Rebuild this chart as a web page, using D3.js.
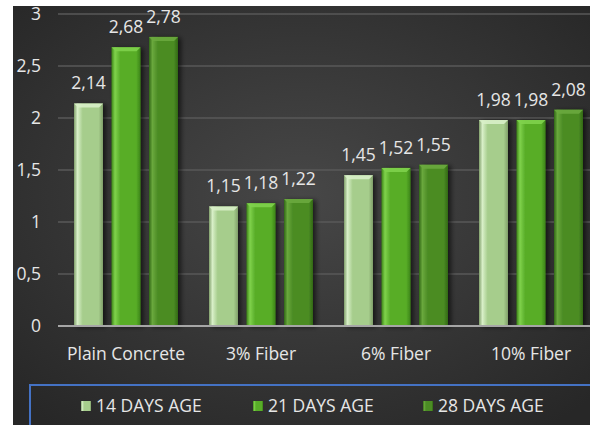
<!DOCTYPE html>
<html>
<head>
<meta charset="utf-8">
<script src="https://cdn.jsdelivr.net/npm/d3@7"></script>
<style>
  html, body { margin: 0; padding: 0; background: #fff; }
  svg { display: block; }
</style>
</head>
<body>
<div id="chart"></div>
<script>
var categories = ['Plain Concrete', '3% Fiber', '6% Fiber', '10% Fiber'];
var series = ['14 DAYS AGE', '21 DAYS AGE', '28 DAYS AGE'];
var days14 = [2.14, 1.15, 1.45, 1.98];
var days21 = [2.68, 1.18, 1.52, 1.98];
var days28 = [2.78, 1.22, 1.55, 2.08];
var yTicks = [0, 0.5, 1, 1.5, 2, 2.5, 3];

var values = [days14, days21, days28];
var palette = [
    {top: '#d8efc8', mid: '#a6cd8c', edge: '#809f6a'},
    {top: '#80d24c', mid: '#58ad28', edge: '#3c8418'},
    {top: '#6aa83e', mid: '#4b8c24', edge: '#316814'}
];

var width = 590, height = 425;
var font = '"Open Sans", Lato, sans-serif';
var fontSize = 17.5;
var locale = d3.formatLocale({decimal: ',', thousands: '.', grouping: [3], currency: ['', '']});
var fmt = function(v) { return locale.format(',')(v); };
var fmt2 = locale.format('.2f');

var svg = d3.select('#chart').append('svg')
    .attr('width', width)
    .attr('height', height);

var defs = svg.append('defs');

var bg = defs.append('radialGradient').attr('id', 'bg')
    .attr('cx', '50%').attr('cy', '45%').attr('r', '70%');
bg.append('stop').attr('offset', '0%').attr('stop-color', '#474747');
bg.append('stop').attr('offset', '100%').attr('stop-color', '#272727');

palette.forEach(function(p, i) {
    var g = defs.append('linearGradient').attr('id', 'bar' + i)
        .attr('x1', 0).attr('x2', 1).attr('y1', 0).attr('y2', 0);
    g.append('stop').attr('offset', '0%').attr('stop-color', p.edge);
    g.append('stop').attr('offset', '12%').attr('stop-color', p.top);
    g.append('stop').attr('offset', '30%').attr('stop-color', p.mid);
    g.append('stop').attr('offset', '85%').attr('stop-color', p.mid);
    g.append('stop').attr('offset', '100%').attr('stop-color', p.edge);
});

var shadow = defs.append('filter').attr('id', 'shadow')
    .attr('x', '-30%').attr('y', '-10%').attr('width', '170%').attr('height', '130%');
shadow.append('feDropShadow').attr('dx', 3).attr('dy', 1)
    .attr('stdDeviation', 2.5).attr('flood-color', '#000').attr('flood-opacity', 0.6);

svg.append('rect')
    .attr('x', 13).attr('y', 6)
    .attr('width', width - 13).attr('height', height - 6)
    .attr('fill', 'url(#bg)');

var x0 = d3.scaleBand().domain(categories).range([58.5, 598.5]);
var x1 = d3.scaleBand().domain(d3.range(series.length)).range([15.5, 119.5]).paddingInner(0.227);
var y = d3.scaleLinear().domain([0, 3]).range([326, 14]);

// gridlines
svg.append('g').selectAll('line')
    .data(yTicks.filter(function(t) { return t > 0; }))
    .join('line')
    .attr('x1', 58).attr('x2', width)
    .attr('y1', function(d) { return y(d); })
    .attr('y2', function(d) { return y(d); })
    .attr('stroke', '#595959')
    .attr('stroke-width', 1.5);

// y axis labels
svg.append('g').selectAll('text')
    .data(yTicks)
    .join('text')
    .attr('x', 41)
    .attr('y', function(d) { return y(d); })
    .attr('dy', '0.35em')
    .attr('text-anchor', 'end')
    .attr('fill', '#e6e6e6')
    .attr('font-family', font)
    .attr('font-size', fontSize)
    .text(fmt);

// bars
var groups = svg.append('g').selectAll('g')
    .data(categories)
    .join('g')
    .attr('transform', function(d) { return 'translate(' + x0(d) + ',0)'; });

var bars = groups.selectAll('g.bar')
    .data(function(d, ci) {
        return values.map(function(s, si) { return {si: si, v: s[ci]}; });
    })
    .join('g').attr('class', 'bar');

bars.append('rect')
    .attr('x', function(d) { return x1(d.si); })
    .attr('y', function(d) { return y(d.v); })
    .attr('width', x1.bandwidth())
    .attr('height', function(d) { return y(0) - y(d.v); })
    .attr('fill', function(d) { return 'url(#bar' + d.si + ')'; })
    .attr('filter', 'url(#shadow)');

// bevel top
bars.append('path')
    .attr('d', function(d) {
        var xl = x1(d.si), xr = xl + x1.bandwidth(), t = y(d.v);
        return 'M' + xl + ',' + t + 'L' + xr + ',' + t + 'L' + (xr - 4) + ',' + (t + 4) +
            'L' + (xl + 4) + ',' + (t + 4) + 'Z';
    })
    .attr('fill', function(d) { return palette[d.si].top; })
    .attr('opacity', 0.9);

bars.append('text')
    .attr('x', function(d) { return x1(d.si) + x1.bandwidth() / 2; })
    .attr('y', function(d) { return y(d.v) - 14; })
    .attr('text-anchor', 'middle')
    .attr('fill', '#e6e6e6')
    .attr('font-family', font)
    .attr('font-size', fontSize)
    .text(function(d) { return fmt2(d.v); });

// baseline
svg.append('line')
    .attr('x1', 58).attr('x2', width)
    .attr('y1', y(0)).attr('y2', y(0))
    .attr('stroke', '#a6a6a6')
    .attr('stroke-width', 2);

// x labels
svg.append('g').selectAll('text')
    .data(categories)
    .join('text')
    .attr('x', function(d) { return x0(d) + x0.bandwidth() / 2; })
    .attr('y', 354)
    .attr('dy', '0.35em')
    .attr('text-anchor', 'middle')
    .attr('fill', '#e6e6e6')
    .attr('font-family', font)
    .attr('font-size', fontSize)
    .text(function(d) { return d; });

// legend
svg.append('rect')
    .attr('x', 30).attr('y', 385)
    .attr('width', 600).attr('height', 80)
    .attr('fill', 'none')
    .attr('stroke', '#4472c4')
    .attr('stroke-width', 2);

var legendX = [81, 253, 423];
var legend = svg.append('g').selectAll('g')
    .data(series)
    .join('g')
    .attr('transform', function(d, i) { return 'translate(' + legendX[i] + ',406)'; });

legend.append('rect')
    .attr('x', 0).attr('y', -5)
    .attr('width', 10).attr('height', 10)
    .attr('fill', function(d, i) { return 'url(#bar' + i + ')'; });

legend.append('text')
    .attr('x', 15)
    .attr('dy', '0.35em')
    .attr('fill', '#e6e6e6')
    .attr('font-family', font)
    .attr('font-size', fontSize)
    .text(function(d) { return d; });
</script>
</body>
</html>
